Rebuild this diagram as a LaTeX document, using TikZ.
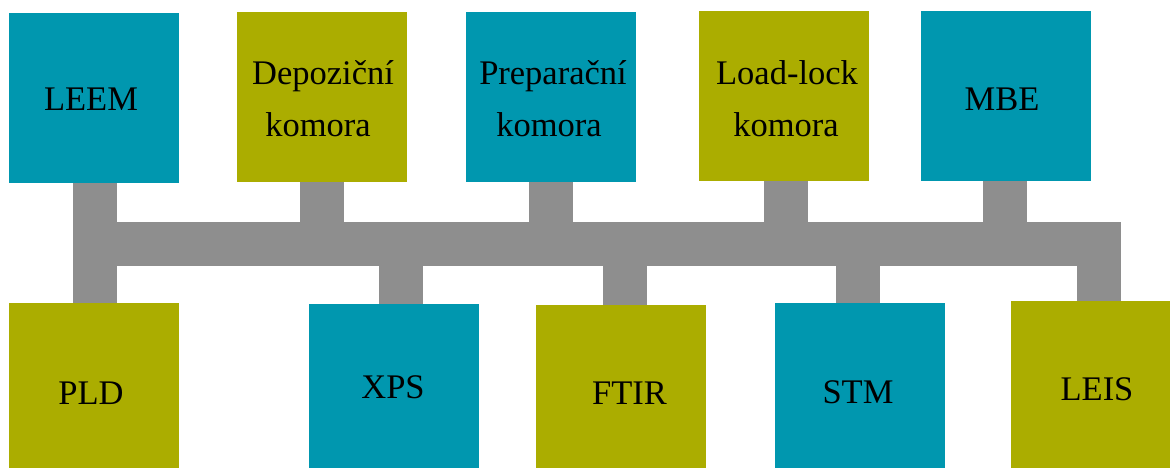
\documentclass[tikz,border=0pt]{standalone}
\usepackage{fontspec}
\setmainfont{Liberation Serif}
\definecolor{teal}{RGB}{0,151,175}
\definecolor{olive}{RGB}{171,173,0}
\definecolor{bus}{RGB}{142,142,142}
\begin{document}
\begin{tikzpicture}[x=1pt,y=-1pt,
  chamber/.style={rectangle,inner sep=0pt,minimum width=170pt,minimum height=170pt},
  tealbox/.style={chamber,fill=teal},
  olivebox/.style={chamber,fill=olive},
  busbar/.style={rectangle,fill=bus,inner sep=0pt,minimum width=1048pt,minimum height=44pt},
  stub/.style={draw=bus,line width=44pt},
  lbl/.style={anchor=base,inner sep=0pt,font=\fontsize{34.5}{52}\selectfont}]
\useasboundingbox (0,0) rectangle (1170,468);
% boxes
\node[tealbox]  (leem) at (94,98) {};
\node[olivebox] (dep)  at (322,97) {};
\node[tealbox]  (prep) at (551,97) {};
\node[olivebox] (ll)   at (784,96) {};
\node[tealbox]  (mbe)  at (1006,96) {};
\node[olivebox] (pld)  at (94,388) {};
\node[tealbox]  (xps)  at (394,389) {};
\node[olivebox] (ftir) at (621,390) {};
\node[tealbox]  (stm)  at (860,388) {};
\node[olivebox] (leis) at (1096,386) {};
% bus
\node[busbar] (bus) at (597,244) {};
% stubs
\draw[stub] ([xshift=1pt]leem.south) -- ([xshift=1pt]pld.north);
\draw[stub] (dep.south) -- (dep.south |- bus.north);
\draw[stub] (prep.south) -- (prep.south |- bus.north);
\draw[stub] ([xshift=2pt]ll.south) -- ([xshift=2pt]ll.south |- bus.north);
\draw[stub] ([xshift=-1pt]mbe.south) -- ([xshift=-1pt]mbe.south |- bus.north);
\draw[stub] ([xshift=7pt]xps.north) -- ([xshift=7pt]xps.north |- bus.south);
\draw[stub] ([xshift=4pt]ftir.north) -- ([xshift=4pt]ftir.north |- bus.south);
\draw[stub] ([xshift=-2pt]stm.north) -- ([xshift=-2pt]stm.north |- bus.south);
\draw[stub] ([xshift=3pt]leis.north) -- ([xshift=3pt]leis.north |- bus.north);
% labels
\node[lbl] (tleem) at (91,111) {LEEM};
\node[lbl] (tdep1) at (323,85) {Depoziční};
\node[lbl] (tdep2) at (318,137) {komora};
\node[lbl] (tprep1) at (553,85) {Preparační};
\node[lbl] (tprep2) at (549,137) {komora};
\node[lbl] (tll1) at (787,85) {Load-lock};
\node[lbl] (tll2) at (786,137) {komora};
\node[lbl] (tmbe) at (1002,111) {MBE};
\node[lbl] (tpld) at (91,404) {PLD};
\node[lbl] (txps) at (393,398) {XPS};
\node[lbl] (tftir) at (629.5,404) {FTIR};
\node[lbl] (tstm) at (858,403) {STM};
\node[lbl] (tleis) at (1097,400) {LEIS};
\end{tikzpicture}
\end{document}
